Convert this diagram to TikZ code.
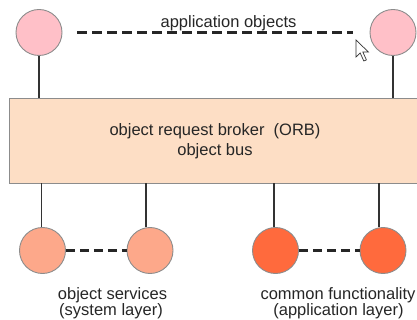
\documentclass[tikz,border=0pt]{standalone}
\usepackage{fontspec}
\setmainfont{Liberation Sans}
\definecolor{apppink}{HTML}{FFC0C8}
\definecolor{svcsalmon}{HTML}{FDA88A}
\definecolor{funcorange}{HTML}{FF6A3D}
\definecolor{orbpeach}{HTML}{FDDEC5}
\definecolor{rimgray}{HTML}{8C8C8C}
\definecolor{stemgray}{HTML}{333333}
\tikzset{
  obj/.style={circle, draw=rimgray, line width=0.9pt, minimum size=46pt, inner sep=0pt},
  stem/.style={draw=stemgray, line width=1.8pt},
  peer/.style={draw=black!85, line width=2.6pt, dash pattern=on 9.5pt off 5.5pt},
  lbl/.style={font=\fontsize{16.5}{20}\selectfont, text=black!85, inner sep=0pt, anchor=base},
}
\begin{document}
\begin{tikzpicture}[x=1pt, y=-1pt]
  \useasboundingbox (0,0) rectangle (417,320);
  \clip (0,0) rectangle (417,320);

  % the broker bar
  \node[draw=rimgray, fill=orbpeach, line width=0.9pt, minimum width=412pt,
        minimum height=85pt, inner sep=0pt] (orb) at (215.5,140.5) {};
  \node[lbl] (orbtxt) at (215,136) {object request broker\ \ (ORB)};
  \node[lbl] (bustxt) at (215,156) {object bus};

  % application objects
  \node[obj, fill=apppink] (t1) at (39,32.5) {};
  \node[obj, fill=apppink] (t2) at (393,32.5) {};
  \draw[stem] (t1.south) -- (t1.south |- orb.north);
  \draw[stem] (t2.south) -- (t2.south |- orb.north);
  \draw[peer] ([xshift=15pt]t1.east) -- ([xshift=-17pt]t2.west);
  \node[lbl] (apptxt) at (228.5,27.5) {application objects};

  % object services
  \node[obj, fill=svcsalmon] (b1) at (42.5,250.5) {};
  \node[obj, fill=svcsalmon] (b2) at (150,250.5) {};
  % common functionality
  \node[obj, fill=funcorange] (b3) at (275.5,250.5) {};
  \node[obj, fill=funcorange] (b4) at (383,250.5) {};

  \draw[stem] ([xshift=-1pt]b1.north) -- ([xshift=-1pt]b1.north |- orb.south);
  \draw[stem] ([xshift=-4pt]b2.north) -- ([xshift=-4pt]b2.north |- orb.south);
  \draw[stem] ([xshift=-1.5pt]b3.north) -- ([xshift=-1.5pt]b3.north |- orb.south);
  \draw[stem] ([xshift=-4pt]b4.north) -- ([xshift=-4pt]b4.north |- orb.south);

  \draw[peer, dash pattern=on 9pt off 5pt] (b1.east) -- (b2.west);
  \draw[peer, dash pattern=on 9pt off 5pt] (b3.east) -- (b4.west);

  \node[lbl] (svc1) at (112.5,299) {object services};
  \node[lbl] (svc2) at (111,315.5) {(system layer)};
  \node[lbl] (fun1) at (338,299) {common functionality};
  \node[lbl] (fun2) at (338.5,315.5) {(application layer)};

  % mouse pointer
  \draw[fill=white, draw=black!80, line width=0.7pt, line join=miter]
    (356,40) -- ++(0,17) -- ++(4.2,-4) -- ++(3.6,8) -- ++(2.6,-1.1)
    -- ++(-3.5,-7.8) -- ++(5.6,0) -- cycle;
\end{tikzpicture}
\end{document}
